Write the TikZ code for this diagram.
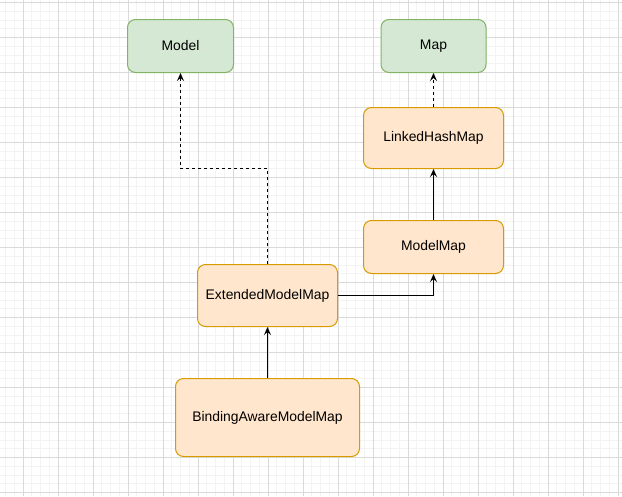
\documentclass[tikz,border=0pt]{standalone}
\usepackage{fontspec}
\setmainfont{Liberation Sans}
\usetikzlibrary{arrows.meta}
\definecolor{gfill}{HTML}{D5E8D4}
\definecolor{gline}{HTML}{82B366}
\definecolor{ofill}{HTML}{FFE6CC}
\definecolor{oline}{HTML}{D79B00}
\definecolor{gmin}{HTML}{F3F3F3}
\definecolor{gmaj}{HTML}{DADADA}
\begin{document}
\begin{tikzpicture}[x=1pt,y=-1pt,
  box/.style={rounded corners=8pt, line width=1pt, inner sep=0pt, font=\fontsize{13.9}{16}\selectfont, text=black},
  gbox/.style={box, draw=gline, fill=gfill},
  obox/.style={box, draw=oline, fill=ofill},
  conn/.style={line width=1.2pt, draw=black, -{Stealth[length=8pt,width=7pt,inset=3pt]}},
  dotconn/.style={conn, dash pattern=on 3pt off 3pt},
  minorline/.style={draw=gmin, line width=1pt},
  majorline/.style={draw=gmaj, line width=1pt}
]
\useasboundingbox (0,0) rectangle (622,496);
\fill[white] (0,0) rectangle (622,496);
\foreach \i in {0,...,70} { \draw[minorline] ({5.5+8.75*\i},0) -- ({5.5+8.75*\i},496); }
\foreach \i in {0,...,56} { \draw[minorline] (0,{2.5+8.75*\i}) -- (622,{2.5+8.75*\i}); }
\foreach \i in {0,...,17} { \draw[majorline] ({23.5+35*\i},0) -- ({23.5+35*\i},496); }
\foreach \i in {0,...,14} { \draw[majorline] (0,{2.5+35*\i}) -- (622,{2.5+35*\i}); }

\node[gbox, minimum width=106pt, minimum height=53pt] (model) at (180.5,46) {Model};
\node[gbox, minimum width=105pt, minimum height=53pt] (map) at (433.5,46) {Map};
\node[obox, minimum width=140pt, minimum height=61pt] (lhm) at (433.5,138) {LinkedHashMap};
\node[obox, minimum width=140pt, minimum height=53pt] (mm) at (433.5,247) {ModelMap};
\node[obox, minimum width=140pt, minimum height=62pt] (emm) at (267.5,295.5) {ExtendedModelMap};
\node[obox, minimum width=184pt, minimum height=78pt] (bam) at (267.5,417.5) {BindingAwareModelMap};

\coordinate (bend) at (267.5,168.5);

\draw[conn] (bam.north) -- (emm.south);
\draw[conn] (emm.east) -| (mm.south);
\draw[conn] (mm.north) -- (lhm.south);
\draw[dotconn] (lhm.north) -- (map.south);
\draw[dotconn] (emm.north) -- (bend) -| (model.south);
\end{tikzpicture}
\end{document}
